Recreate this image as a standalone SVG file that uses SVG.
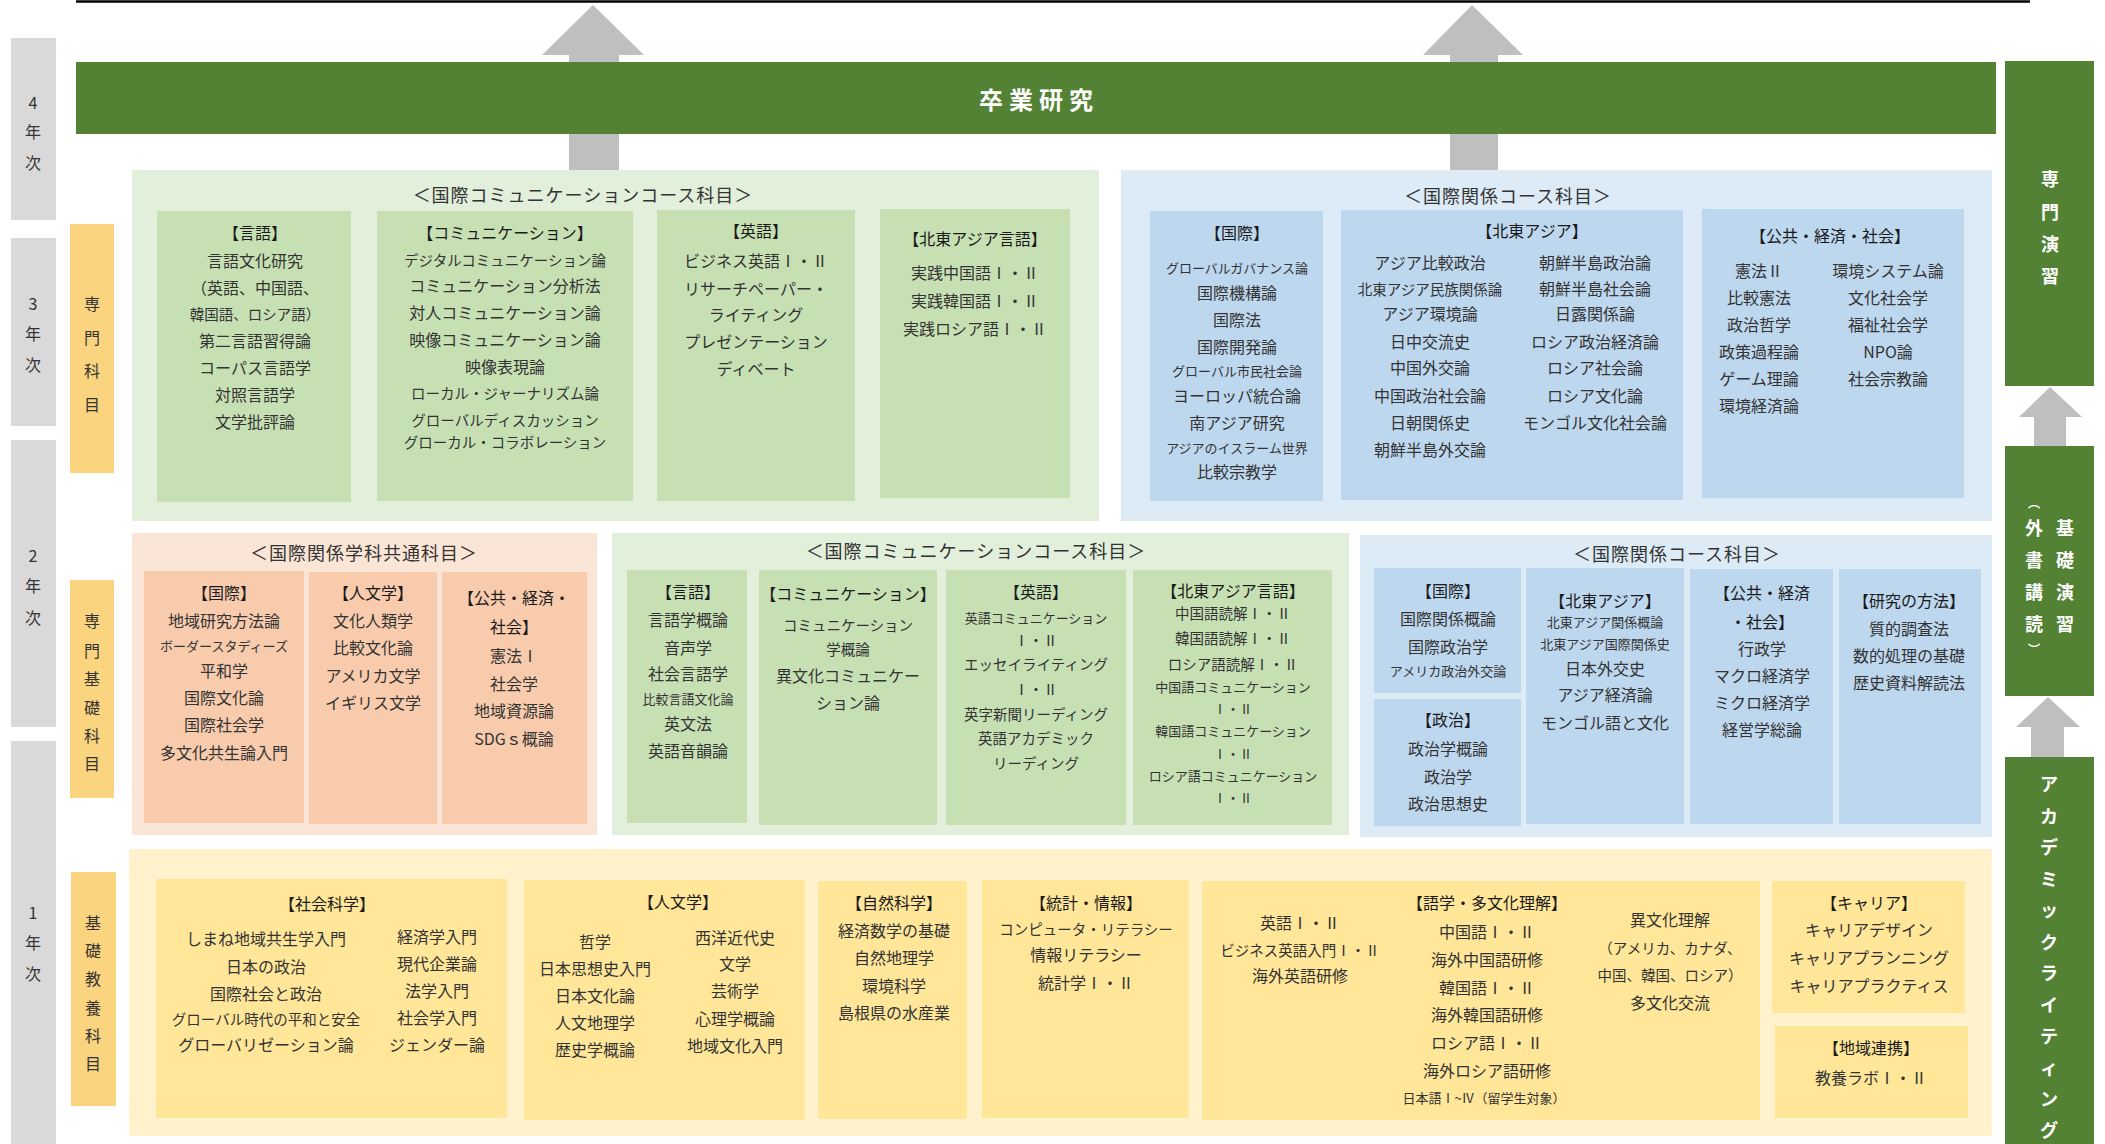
<svg xmlns="http://www.w3.org/2000/svg" width="2105" height="1144" viewBox="0 0 2105 1144">
<style>
text{font-family:"Noto Sans CJK JP","Noto Sans CJK SC",sans-serif;text-anchor:middle;dominant-baseline:central;fill:#333;font-size:16px}
.h{fill:#1a1a1a}
.s{font-size:13px}
.m{font-size:14.5px}
.ttl{font-size:18px;letter-spacing:1px}
.w{fill:#fff;font-weight:bold;font-size:18px}
.par{font-size:12px}
.big{font-size:24px;letter-spacing:6px}
.gy{fill:#D9D9D9}
.lab{fill:#FAD47E}
.g{fill:#548235}
.arr{fill:#BFBFBF}
.og{fill:#E2EFDA}.ig{fill:#C6E0B4}
.ob{fill:#DDEBF7}.ib{fill:#BDD7EE}
.oo{fill:#FBE5D6}.io{fill:#F8CBAD}
.oy{fill:#FFF2CC}.iy{fill:#FFE699}
</style>

<line x1="76" y1="1.5" x2="2030" y2="1.5" stroke="#000" stroke-width="2.5"/>

<g id="connectors">
  <polygon class="arr" points="593,5 644,55 619,55 619,170 569,170 569,55 542,55"/>
  <polygon class="arr" points="1472,5 1523,55 1498,55 1498,170 1450,170 1450,55 1423,55"/>
  <polygon class="arr" points="2050,387 2082,417 2066,417 2066,446 2034,446 2034,417 2019,417"/>
  <polygon class="arr" points="2048,697 2080,727 2064,727 2064,757 2031,757 2031,727 2016,727"/>
</g>

<g id="year-4">
  <rect class="gy" x="11" y="38" width="45" height="182"/>
  <text x="33" y="102">4</text><text x="33" y="131">年</text><text x="33" y="162">次</text>
</g>
<g id="year-3">
  <rect class="gy" x="11" y="238" width="45" height="188"/>
  <text x="33" y="303">3</text><text x="33" y="333">年</text><text x="33" y="364">次</text>
</g>
<g id="year-2">
  <rect class="gy" x="11" y="440" width="45" height="287"/>
  <text x="33" y="555">2</text><text x="33" y="585">年</text><text x="33" y="617">次</text>
</g>
<g id="year-1">
  <rect class="gy" x="11" y="741" width="45" height="403"/>
  <text x="33" y="912">1</text><text x="33" y="942">年</text><text x="33" y="973">次</text>
</g>

<g id="label-senmon">
  <rect class="lab" x="70" y="224" width="44" height="249"/>
  <text x="92" y="303">専</text><text x="92" y="337">門</text><text x="92" y="370">科</text><text x="92" y="404">目</text>
</g>
<g id="label-senmonkiso">
  <rect class="lab" x="70" y="580" width="44" height="218"/>
  <text x="92" y="620">専</text><text x="92" y="650">門</text><text x="92" y="678">基</text><text x="92" y="707">礎</text><text x="92" y="735">科</text><text x="92" y="763">目</text>
</g>
<g id="label-kiso">
  <rect class="lab" x="71" y="872" width="45" height="234"/>
  <text x="93" y="922">基</text><text x="93" y="950">礎</text><text x="93" y="978">教</text><text x="93" y="1007">養</text><text x="93" y="1035">科</text><text x="93" y="1063">目</text>
</g>

<g id="sotsugyo">
  <rect class="g" x="76" y="62" width="1920" height="72"/>
  <text class="w big" x="1039" y="98">卒業研究</text>
</g>

<g id="senmon-enshu">
  <rect class="g" x="2005" y="61" width="89" height="325"/>
  <text class="w" x="2050" y="178">専</text><text class="w" x="2050" y="211">門</text><text class="w" x="2050" y="243">演</text><text class="w" x="2050" y="275">習</text>
</g>
<g id="kiso-enshu">
  <rect class="g" x="2005" y="446" width="89" height="250"/>
  <text class="w par" x="2034" y="502">︵</text>
  <text class="w" x="2034" y="527">外</text><text class="w" x="2034" y="559">書</text><text class="w" x="2034" y="591">講</text><text class="w" x="2034" y="623">読</text>
  <text class="w par" x="2034" y="648">︶</text>
  <text class="w" x="2065" y="527">基</text><text class="w" x="2065" y="559">礎</text><text class="w" x="2065" y="591">演</text><text class="w" x="2065" y="623">習</text>
</g>
<g id="academic-writing">
  <rect class="g" x="2005" y="757" width="89" height="387"/>
  <text class="w" x="2049" y="783">ア</text><text class="w" x="2049" y="815">カ</text><text class="w" x="2049" y="846">デ</text><text class="w" x="2049" y="878">ミ</text><text class="w" x="2049" y="909">ッ</text><text class="w" x="2049" y="941">ク</text><text class="w" x="2049" y="972">ラ</text><text class="w" x="2049" y="1004">イ</text><text class="w" x="2049" y="1035">テ</text><text class="w" x="2049" y="1067">ィ</text><text class="w" x="2049" y="1098">ン</text><text class="w" x="2049" y="1129">グ</text>
</g>

<!-- 3年次 国際コミュニケーション -->
<g id="ic3">
  <rect class="og" x="132" y="170" width="967" height="351"/>
  <text class="ttl" x="583" y="194">＜国際コミュニケーションコース科目＞</text>
</g>
<g id="ic3-gengo">
  <rect class="ig" x="157" y="211" width="194" height="291"/>
  <text class="h" x="255" y="232">【言語】</text>
  <text x="255" y="260">言語文化研究</text>
  <text x="255" y="287">（英語、中国語、</text>
  <text class="m" x="255" y="313">韓国語、ロシア語）</text>
  <text x="255" y="340">第二言語習得論</text>
  <text x="255" y="367">コーパス言語学</text>
  <text x="255" y="394">対照言語学</text>
  <text x="255" y="421">文学批評論</text>
</g>
<g id="ic3-comm">
  <rect class="ig" x="377" y="211" width="256" height="290"/>
  <text class="h" x="505" y="232">【コミュニケーション】</text>
  <text class="m" x="505" y="259">デジタルコミュニケーション論</text>
  <text x="505" y="285">コミュニケーション分析法</text>
  <text x="505" y="312">対人コミュニケーション論</text>
  <text x="505" y="339">映像コミュニケーション論</text>
  <text x="505" y="366">映像表現論</text>
  <text class="m" x="505" y="392">ローカル・ジャーナリズム論</text>
  <text class="m" x="505" y="419">グローバルディスカッション</text>
  <text class="m" x="505" y="441">グローカル・コラボレーション</text>
</g>
<g id="ic3-eigo">
  <rect class="ig" x="657" y="210" width="198" height="291"/>
  <text class="h" x="756" y="230">【英語】</text>
  <text x="756" y="260">ビジネス英語Ⅰ・Ⅱ</text>
  <text x="756" y="288">リサーチペーパー・</text>
  <text x="756" y="314">ライティング</text>
  <text x="756" y="341">プレゼンテーション</text>
  <text x="756" y="368">ディベート</text>
</g>
<g id="ic3-nea">
  <rect class="ig" x="880" y="209" width="190" height="289"/>
  <text class="h" x="975" y="238">【北東アジア言語】</text>
  <text x="975" y="272">実践中国語Ⅰ・Ⅱ</text>
  <text x="975" y="300">実践韓国語Ⅰ・Ⅱ</text>
  <text x="975" y="328">実践ロシア語Ⅰ・Ⅱ</text>
</g>

<!-- 3年次 国際関係 -->
<g id="ir3">
  <rect class="ob" x="1121" y="170" width="871" height="351"/>
  <text class="ttl" x="1508" y="195">＜国際関係コース科目＞</text>
</g>
<g id="ir3-kokusai">
  <rect class="ib" x="1150" y="211" width="173" height="290"/>
  <text class="h" x="1237" y="232">【国際】</text>
  <text class="s" x="1237" y="267">グローバルガバナンス論</text>
  <text x="1237" y="292">国際機構論</text>
  <text x="1237" y="319">国際法</text>
  <text x="1237" y="346">国際開発論</text>
  <text class="s" x="1237" y="370">グローバル市民社会論</text>
  <text x="1237" y="395">ヨーロッパ統合論</text>
  <text x="1237" y="422">南アジア研究</text>
  <text class="s" x="1237" y="447">アジアのイスラーム世界</text>
  <text x="1237" y="471">比較宗教学</text>
</g>
<g id="ir3-nea">
  <rect class="ib" x="1341" y="210" width="342" height="290"/>
  <text class="h" x="1532" y="230">【北東アジア】</text>
  <text x="1430" y="262">アジア比較政治</text>
  <text class="m" x="1430" y="288">北東アジア民族関係論</text>
  <text x="1430" y="313">アジア環境論</text>
  <text x="1430" y="341">日中交流史</text>
  <text x="1430" y="367">中国外交論</text>
  <text x="1430" y="395">中国政治社会論</text>
  <text x="1430" y="422">日朝関係史</text>
  <text x="1430" y="449">朝鮮半島外交論</text>
  <text x="1595" y="262">朝鮮半島政治論</text>
  <text x="1595" y="288">朝鮮半島社会論</text>
  <text x="1595" y="313">日露関係論</text>
  <text x="1595" y="341">ロシア政治経済論</text>
  <text x="1595" y="367">ロシア社会論</text>
  <text x="1595" y="395">ロシア文化論</text>
  <text x="1595" y="422">モンゴル文化社会論</text>
</g>
<g id="ir3-public">
  <rect class="ib" x="1702" y="209" width="262" height="289"/>
  <text class="h" x="1830" y="235">【公共・経済・社会】</text>
  <text x="1759" y="270">憲法Ⅱ</text>
  <text x="1759" y="297">比較憲法</text>
  <text x="1759" y="324">政治哲学</text>
  <text x="1759" y="351">政策過程論</text>
  <text x="1759" y="378">ゲーム理論</text>
  <text x="1759" y="405">環境経済論</text>
  <text x="1888" y="270">環境システム論</text>
  <text x="1888" y="297">文化社会学</text>
  <text x="1888" y="324">福祉社会学</text>
  <text x="1888" y="351">NPO論</text>
  <text x="1888" y="378">社会宗教論</text>
</g>

<!-- 2年次 学科共通 -->
<g id="common2">
  <rect class="oo" x="132" y="533" width="465" height="302"/>
  <text class="ttl" x="364" y="552">＜国際関係学科共通科目＞</text>
</g>
<g id="common2-kokusai">
  <rect class="io" x="144" y="571" width="160" height="252"/>
  <text class="h" x="224" y="592">【国際】</text>
  <text x="224" y="620">地域研究方法論</text>
  <text class="s" x="224" y="645">ボーダースタディーズ</text>
  <text x="224" y="670">平和学</text>
  <text x="224" y="697">国際文化論</text>
  <text x="224" y="724">国際社会学</text>
  <text x="224" y="752">多文化共生論入門</text>
</g>
<g id="common2-jinbun">
  <rect class="io" x="309" y="572" width="128" height="252"/>
  <text class="h" x="373" y="592">【人文学】</text>
  <text x="373" y="620">文化人類学</text>
  <text x="373" y="647">比較文化論</text>
  <text x="373" y="675">アメリカ文学</text>
  <text x="373" y="702">イギリス文学</text>
</g>
<g id="common2-public">
  <rect class="io" x="442" y="572" width="145" height="252"/>
  <text class="h" x="514" y="597">【公共・経済・</text>
  <text class="h" x="514" y="626">社会】</text>
  <text x="514" y="655">憲法Ⅰ</text>
  <text x="514" y="683">社会学</text>
  <text x="514" y="710">地域資源論</text>
  <text x="514" y="738">SDGｓ概論</text>
</g>

<!-- 2年次 国際コミュニケーション -->
<g id="ic2">
  <rect class="og" x="612" y="533" width="737" height="302"/>
  <text class="ttl" x="976" y="550">＜国際コミュニケーションコース科目＞</text>
</g>
<g id="ic2-gengo">
  <rect class="ig" x="627" y="570" width="120" height="253"/>
  <text class="h" x="688" y="591">【言語】</text>
  <text x="688" y="619">言語学概論</text>
  <text x="688" y="647">音声学</text>
  <text x="688" y="673">社会言語学</text>
  <text class="s" x="688" y="698">比較言語文化論</text>
  <text x="688" y="723">英文法</text>
  <text x="688" y="750">英語音韻論</text>
</g>
<g id="ic2-comm">
  <rect class="ig" x="759" y="570" width="178" height="255"/>
  <text class="h" x="848" y="593">【コミュニケーション】</text>
  <text class="m" x="848" y="624">コミュニケーション</text>
  <text class="m" x="848" y="648">学概論</text>
  <text x="848" y="675">異文化コミュニケー</text>
  <text x="848" y="702">ション論</text>
</g>
<g id="ic2-eigo">
  <rect class="ig" x="946" y="570" width="180" height="255"/>
  <text class="h" x="1036" y="591">【英語】</text>
  <text class="s" x="1036" y="617">英語コミュニケーション</text>
  <text class="m" x="1036" y="639">Ⅰ・Ⅱ</text>
  <text class="m" x="1036" y="663">エッセイライティング</text>
  <text class="m" x="1036" y="688">Ⅰ・Ⅱ</text>
  <text class="m" x="1036" y="713">英字新聞リーディング</text>
  <text class="m" x="1036" y="737">英語アカデミック</text>
  <text class="m" x="1036" y="762">リーディング</text>
</g>
<g id="ic2-nea">
  <rect class="ig" x="1133" y="570" width="199" height="255"/>
  <text class="h" x="1233" y="590">【北東アジア言語】</text>
  <text class="m" x="1233" y="612">中国語読解Ⅰ・Ⅱ</text>
  <text class="m" x="1233" y="637">韓国語読解Ⅰ・Ⅱ</text>
  <text class="m" x="1233" y="663">ロシア語読解Ⅰ・Ⅱ</text>
  <text class="s" x="1233" y="686">中国語コミュニケーション</text>
  <text class="s" x="1233" y="708">Ⅰ・Ⅱ</text>
  <text class="s" x="1233" y="730">韓国語コミュニケーション</text>
  <text class="s" x="1233" y="753">Ⅰ・Ⅱ</text>
  <text class="s" x="1233" y="775">ロシア語コミュニケーション</text>
  <text class="s" x="1233" y="797">Ⅰ・Ⅱ</text>
</g>

<!-- 2年次 国際関係 -->
<g id="ir2">
  <rect class="ob" x="1360" y="535" width="632" height="302"/>
  <text class="ttl" x="1677" y="553">＜国際関係コース科目＞</text>
</g>
<g id="ir2-kokusai">
  <rect class="ib" x="1374" y="568" width="147" height="125"/>
  <text class="h" x="1448" y="590">【国際】</text>
  <text x="1448" y="618">国際関係概論</text>
  <text x="1448" y="646">国際政治学</text>
  <text class="s" x="1448" y="670">アメリカ政治外交論</text>
</g>
<g id="ir2-seiji">
  <rect class="ib" x="1374" y="699" width="147" height="127"/>
  <text class="h" x="1448" y="719">【政治】</text>
  <text x="1448" y="748">政治学概論</text>
  <text x="1448" y="776">政治学</text>
  <text x="1448" y="803">政治思想史</text>
</g>
<g id="ir2-nea">
  <rect class="ib" x="1526" y="568" width="158" height="256"/>
  <text class="h" x="1605" y="600">【北東アジア】</text>
  <text class="s" x="1605" y="621">北東アジア関係概論</text>
  <text class="s" x="1605" y="643">北東アジア国際関係史</text>
  <text x="1605" y="668">日本外交史</text>
  <text x="1605" y="694">アジア経済論</text>
  <text x="1605" y="722">モンゴル語と文化</text>
</g>
<g id="ir2-public">
  <rect class="ib" x="1690" y="569" width="143" height="255"/>
  <text class="h" x="1762" y="592">【公共・経済</text>
  <text class="h" x="1762" y="621">・社会】</text>
  <text x="1762" y="648">行政学</text>
  <text x="1762" y="675">マクロ経済学</text>
  <text x="1762" y="702">ミクロ経済学</text>
  <text x="1762" y="729">経営学総論</text>
</g>
<g id="ir2-method">
  <rect class="ib" x="1839" y="569" width="142" height="255"/>
  <text class="h" x="1909" y="600">【研究の方法】</text>
  <text x="1909" y="628">質的調査法</text>
  <text x="1909" y="655">数的処理の基礎</text>
  <text x="1909" y="682">歴史資料解読法</text>
</g>

<!-- 1年次 基礎教養 -->
<g id="kiso1">
  <rect class="oy" x="129" y="849" width="1863" height="287"/>
</g>
<g id="kiso1-shakai">
  <rect class="iy" x="156" y="879" width="351" height="239"/>
  <text class="h" x="327" y="903">【社会科学】</text>
  <text x="266" y="938">しまね地域共生学入門</text>
  <text x="266" y="966">日本の政治</text>
  <text x="266" y="993">国際社会と政治</text>
  <text class="m" x="266" y="1018">グローバル時代の平和と安全</text>
  <text x="266" y="1044">グローバリゼーション論</text>
  <text x="437" y="936">経済学入門</text>
  <text x="437" y="963">現代企業論</text>
  <text x="437" y="990">法学入門</text>
  <text x="437" y="1017">社会学入門</text>
  <text x="437" y="1044">ジェンダー論</text>
</g>
<g id="kiso1-jinbun">
  <rect class="iy" x="524" y="880" width="281" height="240"/>
  <text class="h" x="678" y="901">【人文学】</text>
  <text x="595" y="941">哲学</text>
  <text x="595" y="968">日本思想史入門</text>
  <text x="595" y="995">日本文化論</text>
  <text x="595" y="1022">人文地理学</text>
  <text x="595" y="1049">歴史学概論</text>
  <text x="735" y="937">西洋近代史</text>
  <text x="735" y="963">文学</text>
  <text x="735" y="990">芸術学</text>
  <text x="735" y="1018">心理学概論</text>
  <text x="735" y="1045">地域文化入門</text>
</g>
<g id="kiso1-shizen">
  <rect class="iy" x="818" y="881" width="149" height="238"/>
  <text class="h" x="894" y="902">【自然科学】</text>
  <text x="894" y="930">経済数学の基礎</text>
  <text x="894" y="957">自然地理学</text>
  <text x="894" y="985">環境科学</text>
  <text x="894" y="1012">島根県の水産業</text>
</g>
<g id="kiso1-joho">
  <rect class="iy" x="982" y="880" width="207" height="238"/>
  <text class="h" x="1086" y="902">【統計・情報】</text>
  <text class="m" x="1086" y="928">コンピュータ・リテラシー</text>
  <text x="1086" y="954">情報リテラシー</text>
  <text x="1086" y="982">統計学Ⅰ・Ⅱ</text>
</g>
<g id="kiso1-gogaku">
  <rect class="iy" x="1202" y="881" width="558" height="239"/>
  <text class="h" x="1487" y="902">【語学・多文化理解】</text>
  <text x="1300" y="922">英語Ⅰ・Ⅱ</text>
  <text class="m" x="1300" y="949">ビジネス英語入門Ⅰ・Ⅱ</text>
  <text x="1300" y="975">海外英語研修</text>
  <text x="1487" y="931">中国語Ⅰ・Ⅱ</text>
  <text x="1487" y="959">海外中国語研修</text>
  <text x="1487" y="987">韓国語Ⅰ・Ⅱ</text>
  <text x="1487" y="1014">海外韓国語研修</text>
  <text x="1487" y="1042">ロシア語Ⅰ・Ⅱ</text>
  <text x="1487" y="1070">海外ロシア語研修</text>
  <text class="s" x="1484" y="1097">日本語Ⅰ~Ⅳ（留学生対象）</text>
  <text x="1670" y="919">異文化理解</text>
  <text class="m" x="1670" y="947">（アメリカ、カナダ、</text>
  <text class="m" x="1670" y="974">中国、韓国、ロシア）</text>
  <text x="1670" y="1002">多文化交流</text>
</g>
<g id="kiso1-career">
  <rect class="iy" x="1772" y="881" width="193" height="132"/>
  <text class="h" x="1869" y="902">【キャリア】</text>
  <text x="1869" y="929">キャリアデザイン</text>
  <text x="1869" y="957">キャリアプランニング</text>
  <text x="1869" y="985">キャリアプラクティス</text>
</g>
<g id="kiso1-chiiki">
  <rect class="iy" x="1775" y="1026" width="193" height="92"/>
  <text class="h" x="1871" y="1047">【地域連携】</text>
  <text x="1871" y="1077">教養ラボⅠ・Ⅱ</text>
</g>
</svg>
